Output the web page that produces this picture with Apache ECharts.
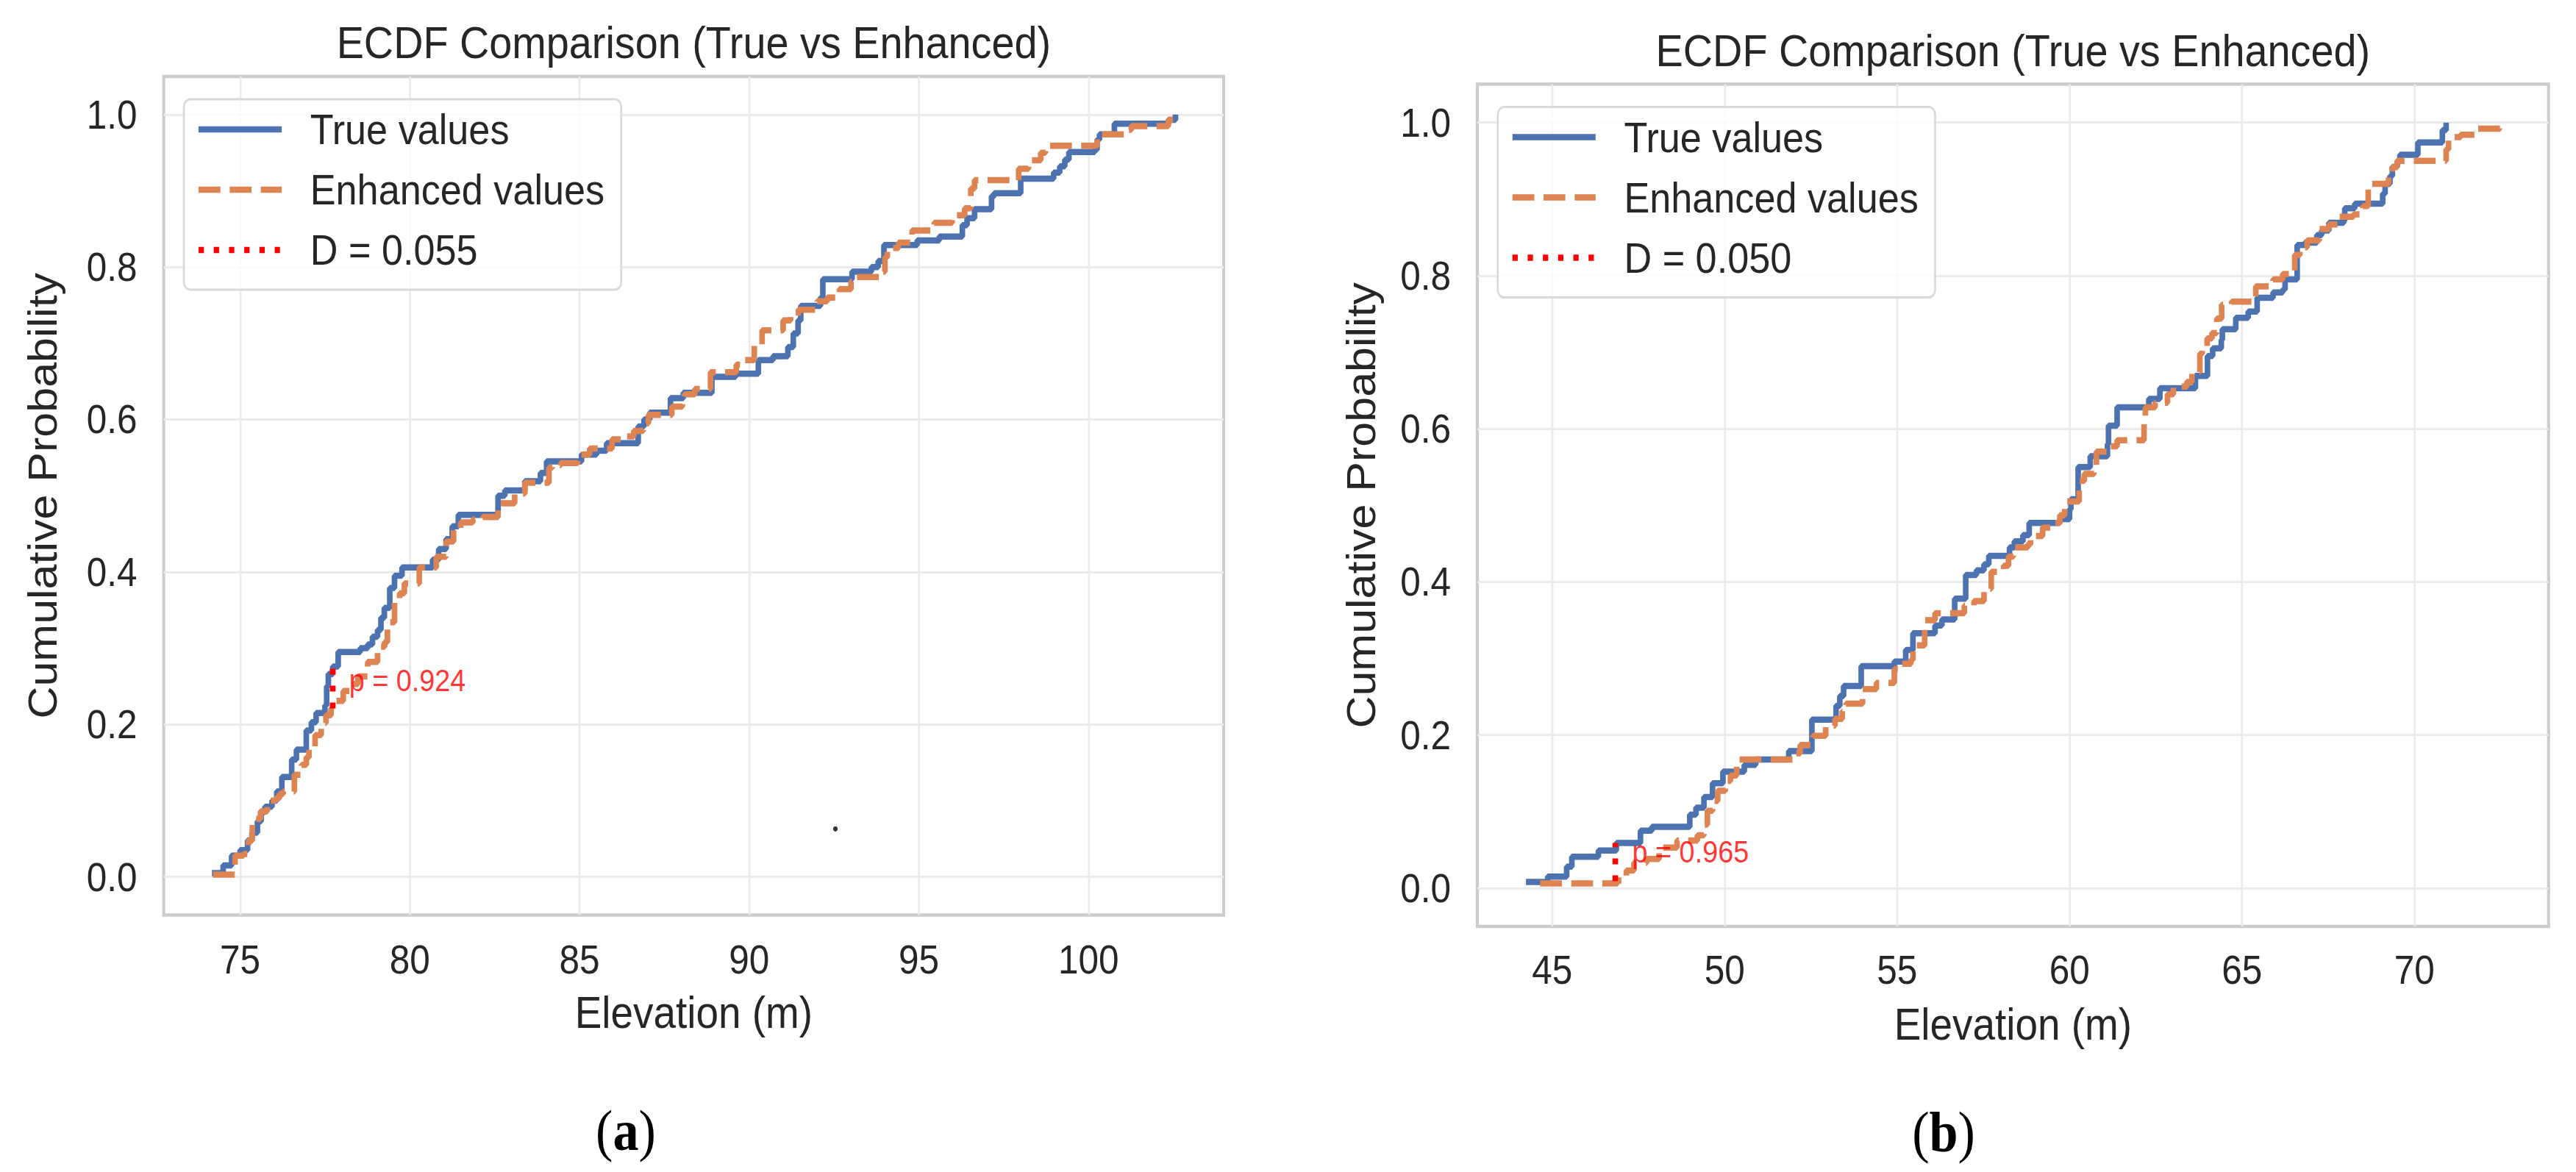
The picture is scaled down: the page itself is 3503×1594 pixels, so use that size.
<!DOCTYPE html>
<html>
<head>
<meta charset="utf-8">
<title>ECDF Comparison (True vs Enhanced)</title>
<script src="https://cdn.jsdelivr.net/npm/echarts@6/dist/echarts.min.js"></script>
<style>
  html, body { margin: 0; padding: 0; background: #fff; overflow: hidden; }
  #wrap { width: 3503px; height: 1594px; overflow: hidden; }
  /* the source figure is squeezed horizontally, so draw wider and squeeze the same way */
  #chart { width: 3892px; height: 1594px; transform: scaleX(0.9); transform-origin: 0 0; }
</style>
</head>
<body>
<div id="wrap"><div id="chart"></div></div>
<script>
const FONT = '"Liberation Sans", Arial, sans-serif';
const SERIF = '"Liberation Serif", "Times New Roman", serif';
const INK = '#262626';
const BLUE = '#4C72B0';
const ORANGE = '#DD8452';
const LW = 8.5;

// ECDF step points [elevation, cumulative probability]
const trueA = [[74.17,0.005],[74.5,0.015],[74.75,0.028],[75.0,0.035],[75.22,0.048],[75.35,0.058],[75.51,0.073],[75.62,0.085],[75.73,0.092],[75.94,0.1],[76.08,0.112],[76.23,0.131],[76.52,0.154],[76.66,0.167],[76.95,0.192],[77.1,0.203],[77.24,0.215],[77.5,0.225],[77.55,0.25],[77.6,0.266],[77.73,0.276],[77.89,0.295],[78.54,0.3],[78.76,0.305],[78.9,0.315],[79.05,0.324],[79.15,0.34],[79.25,0.353],[79.41,0.379],[79.55,0.395],[79.77,0.406],[80.67,0.416],[80.85,0.43],[81.07,0.443],[81.25,0.46],[81.43,0.475],[82.6,0.5],[82.8,0.507],[83.39,0.519],[83.85,0.53],[84.03,0.545],[85.06,0.554],[85.5,0.559],[85.8,0.569],[86.73,0.591],[86.9,0.6],[87.07,0.609],[87.68,0.628],[88.06,0.635],[88.9,0.656],[89.6,0.66],[90.27,0.678],[90.7,0.683],[91.14,0.695],[91.3,0.713],[91.44,0.73],[91.52,0.749],[92.1,0.76],[92.17,0.784],[93.03,0.794],[93.6,0.8],[93.8,0.808],[93.97,0.829],[94.95,0.835],[95.6,0.84],[96.28,0.855],[96.42,0.864],[96.64,0.876],[97.14,0.893],[97.22,0.897],[98.0,0.916],[98.97,0.924],[99.15,0.932],[99.3,0.941],[99.42,0.951],[100.18,0.954],[100.25,0.967],[100.32,0.974],[100.76,0.988],[102.35,0.993],[102.56,1.0]];
const enhA = [[74.2,0.003],[74.85,0.028],[75.1,0.03],[75.25,0.048],[75.36,0.07],[75.47,0.076],[75.6,0.086],[75.8,0.1],[76.05,0.103],[76.16,0.109],[76.27,0.112],[76.6,0.134],[76.81,0.147],[76.95,0.157],[77.03,0.167],[77.21,0.186],[77.39,0.202],[77.53,0.212],[77.68,0.221],[77.82,0.231],[78.04,0.244],[78.25,0.253],[78.47,0.263],[78.76,0.282],[79.05,0.302],[79.26,0.308],[79.34,0.334],[79.55,0.363],[79.7,0.372],[79.84,0.385],[80.28,0.406],[80.78,0.42],[81.07,0.44],[81.29,0.456],[81.5,0.465],[81.86,0.469],[82.15,0.472],[82.6,0.49],[83.09,0.503],[83.39,0.517],[84.1,0.537],[84.2,0.54],[84.45,0.543],[84.95,0.554],[85.3,0.562],[85.96,0.574],[86.3,0.578],[86.6,0.585],[86.88,0.595],[87.03,0.606],[87.72,0.617],[88.03,0.623],[88.1,0.633],[88.4,0.64],[88.86,0.662],[89.62,0.672],[89.77,0.678],[90.15,0.697],[90.38,0.717],[91.0,0.73],[91.22,0.736],[91.45,0.744],[92.0,0.755],[92.3,0.76],[92.66,0.771],[93.0,0.781],[93.1,0.787],[93.9,0.794],[94.0,0.813],[94.07,0.825],[94.4,0.832],[94.8,0.848],[95.45,0.858],[95.98,0.868],[96.35,0.877],[96.53,0.903],[96.64,0.914],[97.94,0.929],[98.23,0.94],[98.59,0.95],[98.73,0.959],[100.25,0.974],[101.05,0.98],[101.26,0.985],[102.35,0.993],[102.56,1.0]];
const trueB = [[44.24,0.008],[44.87,0.015],[45.42,0.028],[45.57,0.041],[46.34,0.049],[46.86,0.059],[47.56,0.075],[47.89,0.08],[48.99,0.096],[49.17,0.105],[49.4,0.119],[49.65,0.137],[49.95,0.152],[50.57,0.161],[50.9,0.168],[51.86,0.179],[52.53,0.22],[53.23,0.238],[53.34,0.251],[53.45,0.264],[53.96,0.29],[54.92,0.296],[55.25,0.311],[55.46,0.333],[56.1,0.343],[56.3,0.351],[56.67,0.378],[56.99,0.409],[57.3,0.415],[57.52,0.423],[57.66,0.434],[58.26,0.445],[58.4,0.453],[58.65,0.461],[58.83,0.477],[59.72,0.482],[60.0,0.495],[60.04,0.508],[60.25,0.55],[60.6,0.564],[61.1,0.58],[61.13,0.604],[61.38,0.628],[62.3,0.639],[62.62,0.653],[63.65,0.669],[64.0,0.695],[64.15,0.705],[64.4,0.716],[64.43,0.73],[64.82,0.745],[65.18,0.753],[65.44,0.771],[65.9,0.778],[66.18,0.782],[66.25,0.795],[66.6,0.84],[66.82,0.843],[67.17,0.853],[67.31,0.859],[67.52,0.869],[67.95,0.872],[67.98,0.888],[68.27,0.894],[69.08,0.907],[69.15,0.92],[69.29,0.93],[69.36,0.942],[69.5,0.949],[69.58,0.958],[70.1,0.974],[70.81,0.99],[70.92,1.0]];
const enhB = [[44.65,0.006],[46.89,0.01],[47.15,0.023],[47.37,0.033],[47.74,0.038],[48.1,0.053],[48.62,0.062],[49.21,0.069],[49.4,0.083],[49.5,0.101],[49.65,0.114],[49.8,0.127],[50.02,0.14],[50.17,0.147],[50.35,0.168],[51.97,0.176],[52.19,0.187],[52.56,0.199],[52.93,0.212],[53.2,0.221],[53.41,0.231],[53.52,0.241],[54.0,0.26],[54.4,0.268],[54.92,0.286],[55.03,0.293],[55.4,0.298],[55.46,0.317],[55.8,0.35],[56.1,0.359],[56.95,0.369],[57.23,0.375],[57.52,0.391],[57.73,0.413],[58.09,0.421],[58.23,0.433],[58.37,0.445],[58.79,0.449],[58.87,0.46],[59.22,0.471],[59.5,0.477],[59.72,0.487],[59.86,0.505],[60.28,0.532],[60.43,0.541],[60.71,0.548],[60.78,0.57],[61.2,0.577],[61.38,0.585],[62.16,0.612],[62.2,0.628],[62.48,0.634],[62.84,0.645],[63.01,0.655],[63.4,0.661],[63.55,0.674],[63.78,0.698],[63.85,0.706],[63.99,0.718],[64.13,0.725],[64.27,0.744],[64.41,0.762],[64.7,0.766],[65.4,0.786],[65.9,0.795],[66.18,0.802],[66.53,0.827],[66.68,0.837],[66.89,0.846],[67.24,0.861],[67.52,0.867],[67.81,0.877],[68.23,0.88],[68.51,0.891],[68.66,0.92],[69.25,0.93],[69.36,0.942],[69.5,0.95],[70.92,0.965],[70.99,0.981],[71.34,0.984],[71.8,0.992],[72.48,1.0]];

// KS statistic and p-value per panel: [D, p]
const ksA = [0.055, 0.924];
const ksB = [0.050, 0.965];
// D segment and where the p label sits
const dLineA = [[77.73, 0.221], [77.73, 0.276]];
const dLineB = [[46.83, 0.009], [46.83, 0.059]];
const pAtA = [[78.2, 0.258]];
const pAtB = [[47.31, 0.048]];
const strayDotA = [[92.54, 0.063]];

const xRangeA = [72.75, 103.98];
const xRangeB = [42.83, 73.89];
const yRange = [-0.05, 1.05];

const chart = echarts.init(document.getElementById('chart'), null, { renderer: 'svg', width: 3892, height: 1594 });

function onStep(v, step) {
  const k = Math.round(v / step);
  return Math.abs(v - k * step) < 1e-6;
}

function xAxisFor(i, range, nameGap, margin) {
  return {
    type: 'value', gridIndex: i, min: range[0], max: range[1], splitNumber: 5,
    name: 'Elevation (m)', nameLocation: 'middle', nameGap: nameGap,
    nameTextStyle: { fontSize: 61, fontFamily: FONT, color: INK },
    axisLine: { show: false }, axisTick: { show: false },
    axisLabel: { margin: margin, fontSize: 55, fontFamily: FONT, color: INK,
      formatter: v => (onStep(v, 5) ? String(Math.round(v)) : '') },
    splitLine: { show: true, showMinLine: false, showMaxLine: false, lineStyle: { color: '#ebebeb', width: 3 } }
  };
}

function yAxisFor(i, nameGap) {
  return {
    type: 'value', gridIndex: i, min: yRange[0], max: yRange[1], splitNumber: 5,
    name: 'Cumulative Probability', nameLocation: 'middle', nameRotate: 90, nameGap: nameGap,
    nameTextStyle: { fontSize: 61, fontFamily: FONT, color: INK },
    axisLine: { show: false }, axisTick: { show: false },
    axisLabel: { margin: 40, fontSize: 55, fontFamily: FONT, color: INK,
      formatter: v => (onStep(v, 0.2) ? v.toFixed(1) : '') },
    splitLine: { show: true, showMinLine: false, showMaxLine: false, lineStyle: { color: '#ebebeb', width: 3 } }
  };
}

function stepLine(name, data, color, type, i) {
  return {
    type: 'line', name: name, data: data, xAxisIndex: i, yAxisIndex: i,
    step: 'end', symbol: 'none', showSymbol: false, silent: true,
    lineStyle: { color: color, width: LW, type: type, cap: 'butt' },
    itemStyle: { color: color }, z: 3
  };
}

function dLine(ks, data, i) {
  return {
    type: 'line', name: 'D = ' + ks[0].toFixed(3), data: data, xAxisIndex: i, yAxisIndex: i,
    symbol: 'none', silent: true,
    lineStyle: { color: '#ff0000', width: LW, type: [8, 15], cap: 'butt' },
    itemStyle: { color: '#ff0000' }, z: 4
  };
}

function pLabel(ks, data, i) {
  return {
    type: 'scatter', data: data, xAxisIndex: i, yAxisIndex: i, symbolSize: 1, silent: true,
    itemStyle: { color: 'rgba(0,0,0,0)' },
    label: { show: true, position: 'right', distance: 0, formatter: 'p = ' + ks[1].toFixed(3),
      color: '#ff0000', fontSize: 42, fontFamily: FONT },
    z: 5
  };
}

function legendFor(left, top, ks) {
  return {
    orient: 'vertical', left: left, top: top, selectedMode: false,
    data: ['True values', 'Enhanced values', 'D = ' + ks[0].toFixed(3)],
    itemWidth: 125.6, itemHeight: 14, itemGap: 24, padding: [12, 25, 25, 18],
    backgroundColor: 'rgba(255,255,255,0.8)', borderColor: '#d9d9d9', borderWidth: 3, borderRadius: 10,
    lineStyle: { width: LW },
    itemStyle: { opacity: 0 },
    textStyle: { fontSize: 58, lineHeight: 58, fontFamily: FONT, color: INK, padding: [0, 0, 0, 38] }
  };
}

function caption(x, y, letter) {
  return {
    type: 'text', x: x, y: y, silent: true,
    style: {
      text: '({b|' + letter + '})', fontSize: 78, fontFamily: SERIF, fill: '#000',
      align: 'center', verticalAlign: 'middle',
      rich: { b: { fontSize: 78, fontFamily: SERIF, fontWeight: 'bold', fill: '#000', color: '#000' } }
    }
  };
}

function title(x, y) {
  return {
    type: 'text', x: x, y: y, silent: true,
    style: { text: 'ECDF Comparison (True vs Enhanced)', fontSize: 62, fontFamily: FONT, fill: INK,
      align: 'center', verticalAlign: 'middle' }
  };
}

const option = {
  animation: false,
  backgroundColor: '#ffffff',
  grid: [
    { left: 247.4, top: 104, width: 1601.5, height: 1140.5, show: true, backgroundColor: '#fff',
      borderColor: '#cccccc', borderWidth: 4.5, containLabel: false, outerBoundsMode: 'none' },
    { left: 2232.2, top: 114.6, width: 1618.6, height: 1145.3, show: true, backgroundColor: '#fff',
      borderColor: '#cccccc', borderWidth: 4.5, containLabel: false, outerBoundsMode: 'none' }
  ],
  xAxis: [xAxisFor(0, xRangeA, 101, 33), xAxisFor(1, xRangeB, 102.5, 32)],
  yAxis: [yAxisFor(0, 152.5), yAxisFor(1, 145)],
  legend: [legendFor(277.8, 135, ksA), legendFor(2263, 145.6, ksB)],
  series: [
    stepLine('True values', trueA, BLUE, 'solid', 0),
    stepLine('Enhanced values', enhA, ORANGE, [33, 14], 0),
    dLine(ksA, dLineA, 0),
    pLabel(ksA, pAtA, 0),
    { type: 'scatter', data: strayDotA, xAxisIndex: 0, yAxisIndex: 0, symbolSize: 7, silent: true,
      itemStyle: { color: '#000' }, z: 5 },
    stepLine('True values', trueB, BLUE, 'solid', 1),
    stepLine('Enhanced values', enhB, ORANGE, [33, 14], 1),
    dLine(ksB, dLineB, 1),
    pLabel(ksB, pAtB, 1)
  ],
  graphic: [
    title(1048.2, 57.5),
    title(3041.5, 68),
    caption(945.6, 1538, 'a'),
    caption(2936.7, 1540, 'b')
  ]
};

chart.setOption(option);
</script>
</body>
</html>
